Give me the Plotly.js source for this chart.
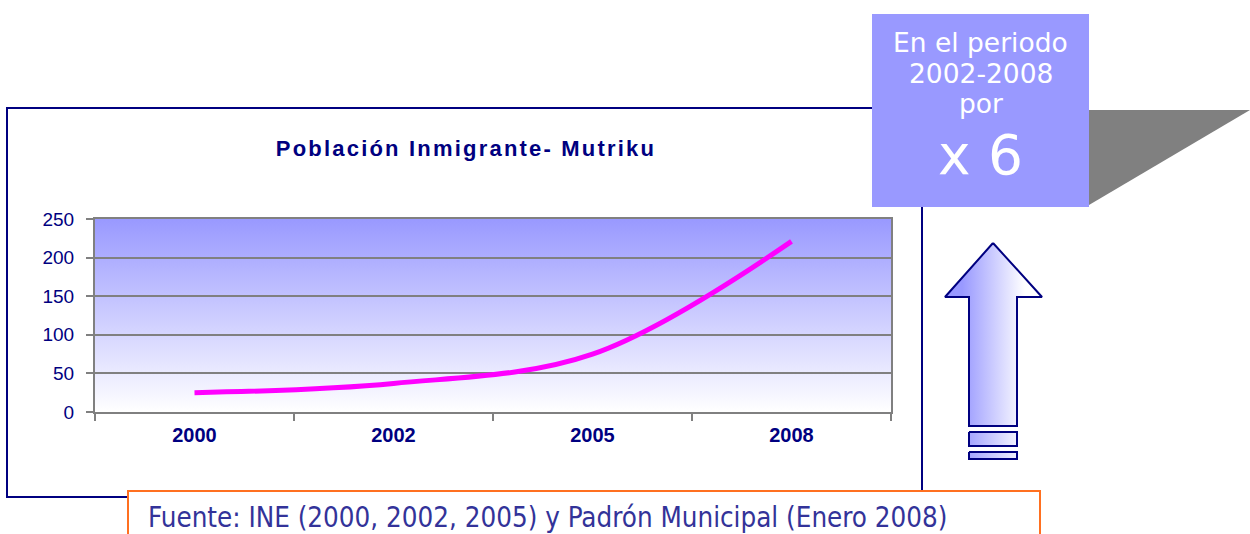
<!DOCTYPE html>
<html><head><meta charset="utf-8">
<script src="https://cdn.plot.ly/plotly-3.0.1.min.js"></script>
<style>body{margin:0;background:#fff;} .gtitle{letter-spacing:2.2px;}</style>
</head><body><div id="chart" style="width:1250px;height:534px;"></div>
<script>
// ---- data ----
const years = ['2000', '2002', '2005', '2008'];
const population = [25, 37, 75, 221];
const yTickValues = [0, 50, 100, 150, 200, 250];
const chartTitle = 'Población Inmigrante- Mutriku';
const boxLines = ['En el periodo', '2002-2008', 'por'];
const boxFactor = 'x 6';
const sourceNote = 'Fuente: INE (2000, 2002, 2005) y Padrón Municipal (Enero 2008)';

// ---- layout geometry (pixels) ----
const W = 1250, H = 534;
const L = 95, R = 891, T = 219, B = 412;
const NAVY = '#000080', GRID = '#808080', PURPLE = '#9999ff';

const pix = {xaxis: 'x', yaxis: 'y', hoverinfo: 'skip', showlegend: false, mode: 'lines'};

const traces = [
  Object.assign({}, pix, {
    x: [L, R, R, L, L], y: [T, T, B, B, T], fill: 'toself',
    fillcolor: PURPLE, line: {width: 0, color: 'rgba(0,0,0,0)'},
    fillgradient: {type: 'vertical', start: T, stop: B, colorscale: [[0, PURPLE], [1, '#ffffff']]}
  }),
  Object.assign({}, pix, {
    x: [993, 1042, 1017, 1017, 969, 969, 945, 993],
    y: [243, 297, 297, 426, 426, 297, 297, 243], fill: 'toself',
    fillcolor: PURPLE, line: {width: 2, color: NAVY},
    fillgradient: {type: 'horizontal', start: 962, stop: 1025, colorscale: [[0, PURPLE], [1, '#ffffff']]}
  }),
  Object.assign({}, pix, {
    x: [969, 1017, 1017, 969, 969], y: [432, 432, 446, 446, 432], fill: 'toself',
    fillcolor: PURPLE, line: {width: 2, color: NAVY},
    fillgradient: {type: 'horizontal', start: 962, stop: 1025, colorscale: [[0, PURPLE], [1, '#ffffff']]}
  }),
  Object.assign({}, pix, {
    x: [969, 1017, 1017, 969, 969], y: [452, 452, 459, 459, 452], fill: 'toself',
    fillcolor: PURPLE, line: {width: 2, color: NAVY},
    fillgradient: {type: 'horizontal', start: 962, stop: 1025, colorscale: [[0, PURPLE], [1, '#ffffff']]}
  }),
  {
    x: years, y: population, xaxis: 'x2', yaxis: 'y2', type: 'scatter', mode: 'lines',
    line: {color: '#ff00ff', width: 5, shape: 'spline', smoothing: 1},
    showlegend: false, name: 'Población inmigrante'
  }
];

const shapes = [
  {type: 'rect', xref: 'x', yref: 'y', x0: 7, x1: 922, y0: 108, y1: 497, line: {color: NAVY, width: 2}, fillcolor: 'rgba(0,0,0,0)'},
  {type: 'path', xref: 'x', yref: 'y', path: 'M1089,110 L1250,110 L1089,205 Z', fillcolor: GRID, line: {width: 0}},
  {type: 'rect', xref: 'x', yref: 'y', x0: 872, x1: 1089, y0: 14, y1: 207, fillcolor: PURPLE, line: {width: 0}},
  {type: 'rect', xref: 'x', yref: 'y', x0: 128, x1: 1040, y0: 491, y1: 545, fillcolor: '#ffffff', line: {color: '#ff7020', width: 2}}
];

const boxY = [42, 73, 103];
const annotations = boxLines.map((t, i) => ({
  xref: 'x', yref: 'y', x: 980.5, y: boxY[i], text: t, showarrow: false,
  xanchor: 'center', yanchor: 'middle', font: {family: 'DejaVu Sans', size: 26.5, color: '#ffffff'}
}));
annotations.push({
  xref: 'x', yref: 'y', x: 980.5, y: 155, text: boxFactor, showarrow: false,
  xanchor: 'center', yanchor: 'middle', font: {family: 'DejaVu Sans', size: 55, color: '#ffffff'}
});
annotations.push({
  xref: 'x', yref: 'y', x: 146, y: 517, text: sourceNote, showarrow: false,
  xanchor: 'left', yanchor: 'middle', font: {family: 'DejaVu Sans Condensed', size: 27.5, color: '#333399'}
});

const layout = {
  width: W, height: H,
  margin: {l: 0, r: 0, t: 0, b: 0, pad: 0},
  paper_bgcolor: '#ffffff', plot_bgcolor: 'rgba(0,0,0,0)',
  showlegend: false,
  title: {
    text: chartTitle, xref: 'paper', yref: 'paper', x: 466 / W, y: 1 - 148 / H,
    xanchor: 'center', yanchor: 'middle',
    font: {family: 'Liberation Sans', size: 22, weight: 'bold', color: NAVY}
  },
  xaxis: {domain: [0, 1], range: [0, W], visible: false, fixedrange: true},
  yaxis: {domain: [0, 1], range: [H, 0], visible: false, fixedrange: true},
  xaxis2: {
    domain: [L / W, R / W], anchor: 'y2', type: 'category', tickson: 'boundaries',
    range: [-0.5, 3.5], autorange: false,
    ticks: 'outside', ticklen: 7, tickwidth: 2, tickcolor: GRID,
    showline: true, linecolor: GRID, linewidth: 2, mirror: true, showgrid: false,
    tickfont: {family: 'Liberation Sans', size: 20, weight: 'bold', color: NAVY},
    ticklabelstandoff: 4, fixedrange: true
  },
  yaxis2: {
    domain: [(H - B) / H, (H - T) / H], anchor: 'x2', range: [0, 250], autorange: false,
    tickvals: yTickValues, ticks: 'outside', ticklen: 7, tickwidth: 2, tickcolor: GRID,
    showline: true, linecolor: GRID, linewidth: 2, mirror: true,
    showgrid: true, gridcolor: GRID, gridwidth: 2, zeroline: false,
    tickfont: {family: 'Liberation Sans', size: 19, color: NAVY},
    ticklabelstandoff: 8, fixedrange: true
  },
  shapes: shapes,
  annotations: annotations
};

Plotly.newPlot('chart', traces, layout, {displayModeBar: false, staticPlot: true});
</script></body></html>
